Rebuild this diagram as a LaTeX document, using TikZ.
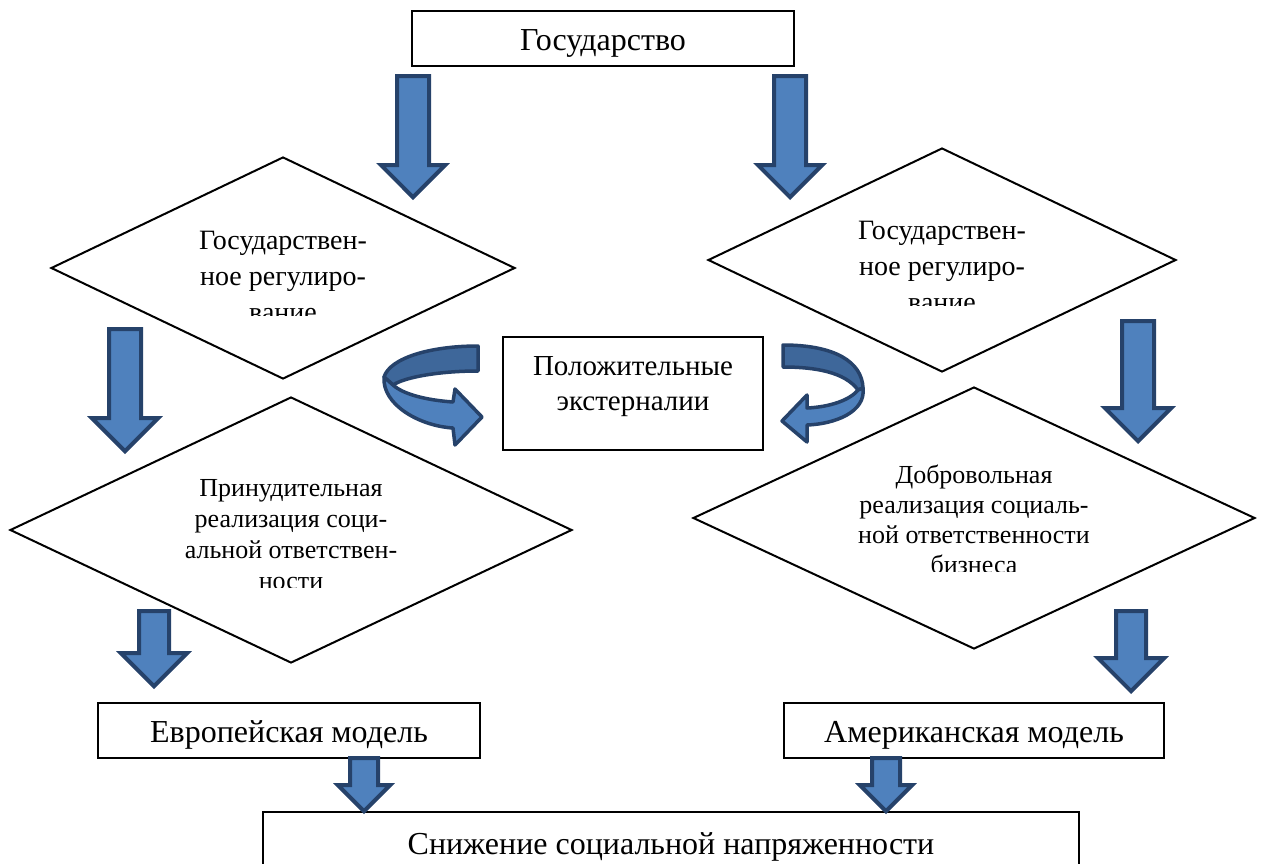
\documentclass[tikz,border=0pt]{standalone}
\usepackage{fontspec}
\setmainfont{Liberation Serif}
\usetikzlibrary{shapes}
\usetikzlibrary{arrows}
\definecolor{arrowfill}{RGB}{79,129,189}
\definecolor{arrowline}{RGB}{38,66,106}
\definecolor{bandback}{RGB}{62,103,154}

\begin{document}
\begin{tikzpicture}[x=1pt,y=-1pt]
	\tikzstyle{box}=[rectangle,draw,line width=2pt,inner sep=0pt,text height=25pt,text depth=2pt,font=\fontsize{32}{38}\selectfont]
	\tikzstyle{rhomb}=[diamond,draw,fill=white,line width=2pt,inner sep=0pt]
	\tikzstyle{rhombtext}=[anchor=north,align=center,inner sep=0pt]
	\tikzstyle{downarrow}=[single arrow,draw=arrowline,fill=arrowfill,line width=4pt,rotate=-90,anchor=tip,inner xsep=0pt,inner ysep=14pt,single arrow tip angle=90,single arrow head extend=16pt]
	\tikzstyle{band}=[draw=arrowline,line width=3.5pt,line join=round]

	\path[use as bounding box,clip] (0,0) rectangle (1265,863);

	\node[box,minimum width=382pt,minimum height=55pt] (state) at (603,38.5) {Государство};
	\node[rhomb,minimum width=464pt,minimum height=222pt] (regleft) at (283,268) {};
	\node[rhomb,minimum width=468pt,minimum height=224pt] (regright) at (942,260) {};
	\node[rhomb,minimum width=562pt,minimum height=266pt] (forced) at (291,530) {};
	\node[rhomb,minimum width=562pt,minimum height=262pt] (volunt) at (974,518) {};

	\begin{scope}
		\clip (133,200) rectangle (433,315);
		\node[rhombtext,font=\fontsize{28}{36}\selectfont] (regleftt) at (283,230.5) {Государствен-\\ное регулиро-\\вание};
	\end{scope}
	\begin{scope}
		\clip (792,190) rectangle (1092,305);
		\node[rhombtext,font=\fontsize{28}{36}\selectfont] (regrightt) at (942,220.5) {Государствен-\\ное регулиро-\\вание};
	\end{scope}
	\begin{scope}
		\clip (111,450) rectangle (471,587);
		\node[rhombtext,font=\fontsize{26}{31}\selectfont] (forcedt) at (291,479) {Принудительная\\реализация соци-\\альной ответствен-\\ности};
	\end{scope}
	\begin{scope}
		\clip (794,440) rectangle (1154,571);
		\node[rhombtext,font=\fontsize{26}{30}\selectfont] (voluntt) at (974,465) {Добровольная\\реализация социаль-\\ной ответственности\\бизнеса};
	\end{scope}

	\node[box,minimum width=260pt,minimum height=113pt] (extern) at (633,393.5) {};
	\node[rhombtext,font=\fontsize{29}{35}\selectfont] (externt) at (633,356) {Положительные\\экстерналии};
	\node[box,minimum width=382pt,minimum height=55pt] (euro) at (289,730.5) {Европейская модель};
	\node[box,minimum width=380pt,minimum height=55pt] (amer) at (974,730.5) {Американская модель};
	\node[box,minimum width=816pt,minimum height=62pt] (calm) at (671,843) {Снижение социальной напряженности};

	\node[downarrow,minimum height=121pt,minimum width=60pt] (a1) at (413,200) {};
	\node[downarrow,minimum height=121pt,minimum width=60pt] (a2) at (790,200) {};
	\node[downarrow,minimum height=122pt,minimum width=62pt,single arrow head extend=17pt] (a3) at (125,454) {};
	\node[downarrow,minimum height=120pt,minimum width=62pt,single arrow head extend=17pt] (a4) at (1138,444) {};
	\node[downarrow,minimum height=75pt,minimum width=62pt,inner ysep=13pt,single arrow head extend=18pt] (a5) at (154,689) {};
	\node[downarrow,minimum height=80pt,minimum width=62pt,inner ysep=13pt,single arrow head extend=18pt] (a6) at (1131,694) {};
	\node[downarrow,minimum height=53pt,minimum width=48pt,inner ysep=12pt,single arrow head extend=12pt] (a7) at (364,814) {};
	\node[downarrow,minimum height=53pt,minimum width=48pt,inner ysep=12pt,single arrow head extend=12pt] (a8) at (886,814) {};

	\draw[band,fill=bandback] (478,346) .. controls (430,346) and (390,358) .. (384,377) -- (393,385) .. controls (405,377) and (440,371) .. (478,371) -- cycle;
	\draw[band,fill=arrowfill] (384,377) .. controls (382,405) and (420,426) .. (453,428) -- (455,445) -- (482,417) -- (455,389) -- (453,402) .. controls (425,400) and (403,394) .. (393,385) -- cycle;
	\draw[band,fill=bandback] (783,345) .. controls (835,345) and (862,362) .. (863,388) -- (858,390) .. controls (845,372) and (815,367) .. (783,367) -- cycle;
	\draw[band,fill=arrowfill] (863,388) .. controls (866,412) and (835,424) .. (807,425) -- (807,442) -- (782,421) -- (807,395) -- (807,408) .. controls (830,407) and (850,400) .. (858,390) -- cycle;
\end{tikzpicture}
\end{document}
